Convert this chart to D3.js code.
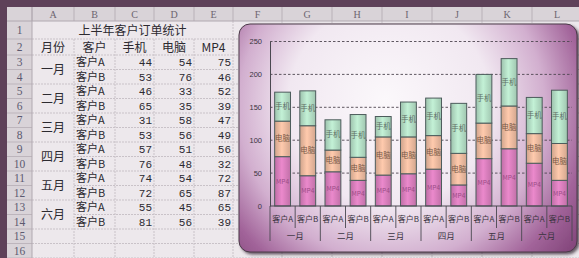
<!DOCTYPE html>
<html><head><meta charset="utf-8">
<script src="https://cdn.jsdelivr.net/npm/d3@7"></script>
<style>html,body{margin:0;padding:0;background:#e9e4e8;overflow:hidden}svg{display:block}</style>
</head><body>
<svg id="c" width="579" height="258"></svg>
<script>
const title = "上半年客户订单统计";
const headers = ["月份", "客户", "手机", "电脑", "MP4"];
const months = ["一月", "二月", "三月", "四月", "五月", "六月"];
const customers = ["客户A", "客户B"];
const phone = [44, 53, 46, 65, 31, 53, 57, 76, 74, 72, 55, 81];
const computer = [54, 76, 33, 35, 58, 56, 51, 48, 54, 65, 45, 56];
const mp4 = [75, 46, 52, 39, 47, 49, 56, 32, 72, 87, 65, 39];
const yTicks = [0, 50, 100, 150, 200, 250];
const colLetters = ["A","B","C","D","E","F","G","H","I","J","K","L"];
const seriesNames = ["MP4", "电脑", "手机"];
const seriesColors = ["#d77dbb", "#ebb99e", "#b2dcc4"];
const labelColors = ["#9a4c86", "#7a5a48", "#5e6e66"];

const svg = d3.select("#c");
const cjk = "'Noto Sans CJK SC', sans-serif";

// ---------- spreadsheet ----------
const colEdges = [7, 32, 74, 115, 154, 194, 233, 282, 332, 382, 432, 482, 532, 582];
const rowEdges = [7, 21, 39, 55];
for (let r = 3; r <= 16; r++) rowEdges.push(55 + (r - 2) * 14.5);

svg.append("rect").attr("width", 579).attr("height", 258).attr("fill", "#ede8ec");
const g = svg.append("g");
for (let i = 3; i < rowEdges.length; i++) {
  const yy = rowEdges[i];
  const rowAbove = i - 1;
  const mergedA = rowAbove >= 3 && rowAbove <= 13 && (rowAbove % 2 === 1);
  g.append("line").attr("x1", mergedA ? colEdges[2] : colEdges[1]).attr("x2", 579)
    .attr("y1", yy).attr("y2", yy).attr("stroke", "#c9c2c8").attr("stroke-dasharray", "2,1");
}
g.append("line").attr("x1", colEdges[1]).attr("x2", 579).attr("y1", rowEdges[2]).attr("y2", rowEdges[2])
  .attr("stroke", "#c9c2c8").attr("stroke-dasharray", "2,1");
for (let c = 2; c < colEdges.length; c++) {
  g.append("line").attr("x1", colEdges[c]).attr("x2", colEdges[c])
    .attr("y1", c <= 6 ? rowEdges[2] : rowEdges[1]).attr("y2", 258)
    .attr("stroke", "#c9c2c8").attr("stroke-dasharray", "2,1");
}
g.append("line").attr("x1", colEdges[6]).attr("x2", colEdges[6]).attr("y1", rowEdges[1]).attr("y2", rowEdges[2])
  .attr("stroke", "#c9c2c8").attr("stroke-dasharray", "2,1");

svg.append("rect").attr("x", 7).attr("y", 7).attr("width", 572).attr("height", 14).attr("fill", "#d9d3d8");
svg.append("rect").attr("x", 7).attr("y", 7).attr("width", 25).attr("height", 251).attr("fill", "#d9d3d8");
colLetters.forEach((L, i) => {
  svg.append("line").attr("x1", colEdges[i + 1]).attr("x2", colEdges[i + 1]).attr("y1", 7).attr("y2", 21).attr("stroke", "#b9b1b8");
  svg.append("text").attr("x", (colEdges[i + 1] + colEdges[i + 2]) / 2).attr("y", 17.5)
    .attr("text-anchor", "middle").attr("font-family", "'Liberation Serif', serif").attr("font-size", 10)
    .attr("fill", "#6d6570").text(L);
});
for (let r = 1; r <= 16; r++) {
  const y0 = rowEdges[r], y1 = rowEdges[r + 1];
  svg.append("line").attr("x1", 7).attr("x2", 32).attr("y1", y1).attr("y2", y1).attr("stroke", "#bdb5bc");
  svg.append("text").attr("x", 19.5).attr("y", (y0 + y1) / 2 + 4).attr("text-anchor", "middle")
    .attr("font-family", "'Liberation Serif', serif").attr("font-size", 11.5).attr("fill", "#5c5a70").text(r);
}
svg.append("line").attr("x1", 7).attr("x2", 579).attr("y1", 21).attr("y2", 21).attr("stroke", "#b0a8b0");
svg.append("line").attr("x1", 32).attr("x2", 32).attr("y1", 7).attr("y2", 258).attr("stroke", "#b0a8b0");
svg.append("rect").attr("x", 0).attr("y", 0).attr("width", 579).attr("height", 7).attr("fill", "#5e4159");
svg.append("rect").attr("x", 0).attr("y", 0).attr("width", 7).attr("height", 258).attr("fill", "#5e4159");

const txt = "#2c2a30";
svg.append("text").attr("x", (colEdges[1] + colEdges[6]) / 2).attr("y", 35).attr("text-anchor", "middle")
  .attr("font-family", cjk).attr("font-size", 12).attr("fill", txt).text(title);
headers.forEach((h, i) => {
  svg.append("text").attr("x", (colEdges[i + 1] + colEdges[i + 2]) / 2).attr("y", 52).attr("text-anchor", "middle")
    .attr("font-family", cjk).attr("font-size", 12).attr("fill", txt).text(h);
});
months.forEach((m, i) => {
  const y0 = rowEdges[3 + 2 * i], y1 = rowEdges[5 + 2 * i];
  svg.append("text").attr("x", (colEdges[1] + colEdges[2]) / 2).attr("y", (y0 + y1) / 2 + 4.5)
    .attr("text-anchor", "middle").attr("font-family", cjk).attr("font-size", 12).attr("fill", txt).text(m);
});
phone.forEach((_, k) => {
  const r = 3 + k, y0 = rowEdges[r], y1 = rowEdges[r + 1], yb = (y0 + y1) / 2 + 4;
  svg.append("text").attr("x", colEdges[2] + 2).attr("y", yb).attr("font-family", cjk).attr("font-size", 11)
    .attr("fill", txt).text(customers[k % 2]);
  [phone[k], computer[k], mp4[k]].forEach((v, j) => {
    svg.append("text").attr("x", colEdges[4 + j] - 2).attr("y", yb).attr("text-anchor", "end")
      .attr("font-family", "'Liberation Mono', monospace").attr("font-size", 11).attr("fill", txt).text(v);
  });
});

// ---------- chart ----------
const defs = svg.append("defs");
const rg = defs.append("radialGradient").attr("id", "bg").attr("gradientUnits", "userSpaceOnUse")
  .attr("cx", 395).attr("cy", 110).attr("r", 225).attr("fx", 385).attr("fy", 100);
[[0, "#fbf8fb"], [0.45, "#f1e8f1"], [0.68, "#d2afcf"], [0.86, "#a2649a"], [1, "#84477c"]]
  .forEach(([o, c]) => rg.append("stop").attr("offset", o).attr("stop-color", c));
const sh = defs.append("filter").attr("id", "sh").attr("x", "-5%").attr("y", "-5%").attr("width", "115%").attr("height", "115%");
sh.append("feDropShadow").attr("dx", 2).attr("dy", 2).attr("stdDeviation", 1.5).attr("flood-color", "#2a1a28").attr("flood-opacity", 0.7);

seriesColors.forEach((c, i) => {
  const lg = defs.append("linearGradient").attr("id", "bar" + i).attr("x1", 0).attr("x2", 1).attr("y1", 0).attr("y2", 0);
  lg.append("stop").attr("offset", 0).attr("stop-color", d3.color(c).darker(0.35));
  lg.append("stop").attr("offset", 0.45).attr("stop-color", d3.color(c).brighter(0.25));
  lg.append("stop").attr("offset", 1).attr("stop-color", d3.color(c).darker(0.3));
});

svg.append("rect").attr("x", 239).attr("y", 24).attr("width", 338).attr("height", 228).attr("rx", 11)
  .attr("fill", "url(#bg)").attr("stroke", "#4a3a48").attr("stroke-width", 1).attr("filter", "url(#sh)");

const y = d3.scaleLinear().domain([0, 250]).range([206, 41.5]);
const idx = d3.range(phone.length);
const x = d3.scaleBand().domain(idx).range([270, 572]).paddingInner(0.37).paddingOuter(0.185);

svg.append("g").selectAll("line").data(yTicks.filter(t => t > 0)).join("line")
  .attr("x1", 270).attr("x2", 572).attr("y1", d => y(d)).attr("y2", d => y(d))
  .attr("stroke", "#4e4650").attr("stroke-dasharray", "2.5,2").attr("stroke-width", 0.9);

const yAxis = svg.append("g").attr("transform", "translate(270,0)")
  .call(d3.axisLeft(y).tickValues(yTicks).tickSize(0).tickPadding(8));
yAxis.select(".domain").attr("stroke", "#4a4850");
yAxis.selectAll("text").attr("font-family", "'Liberation Sans', Arial, sans-serif").attr("font-size", 7.5).attr("fill", "#3a3440");

const rows = idx.map(i => ({ i, MP4: mp4[i], "电脑": computer[i], "手机": phone[i] }));
const stack = d3.stack().keys(seriesNames)(rows);
stack.forEach((layer, si) => {
  const lg = svg.append("g");
  lg.selectAll("rect").data(layer).join("rect")
    .attr("x", d => x(d.data.i)).attr("width", x.bandwidth())
    .attr("y", d => y(d[1])).attr("height", d => y(d[0]) - y(d[1]))
    .attr("fill", `url(#bar${si})`).attr("stroke", "#4d5c5c").attr("stroke-width", 1);
  lg.selectAll("text").data(layer).join("text")
    .attr("x", d => x(d.data.i) + x.bandwidth() / 2).attr("y", d => (y(d[0]) + y(d[1])) / 2 + 2.5)
    .attr("text-anchor", "middle").attr("font-family", cjk).attr("font-size", si === 0 ? 6.5 : 7.5)
    .attr("fill", labelColors[si]).text(seriesNames[si]);
});

const ax = svg.append("g");
ax.append("line").attr("x1", 270).attr("x2", 572).attr("y1", 206).attr("y2", 206).attr("stroke", "#4a4850");
const step = x.step();
const bounds = d3.range(phone.length + 1).map(k => k === 0 ? 270 : (k === phone.length ? 572 : x(k) - (step - x.bandwidth()) / 2));
bounds.forEach((bx, k) => {
  ax.append("line").attr("x1", bx).attr("x2", bx).attr("y1", 206).attr("y2", k % 2 === 0 ? 241 : 228)
    .attr("stroke", "#4a4850").attr("stroke-width", 0.9);
});
idx.forEach(i => {
  ax.append("text").attr("x", x(i) + x.bandwidth() / 2).attr("y", 222).attr("text-anchor", "middle")
    .attr("font-family", cjk).attr("font-size", 8).attr("fill", "#3a3440").text(customers[i % 2]);
});
months.forEach((m, k) => {
  ax.append("text").attr("x", (bounds[2 * k] + bounds[2 * k + 2]) / 2).attr("y", 239).attr("text-anchor", "middle")
    .attr("font-family", cjk).attr("font-size", 8.5).attr("fill", "#3a3440").text(m);
});
</script>
</body></html>
